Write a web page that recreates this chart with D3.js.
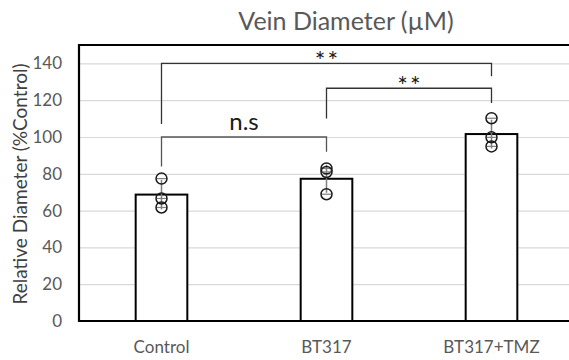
<!DOCTYPE html>
<html>
<head>
<meta charset="utf-8">
<script src="https://cdn.jsdelivr.net/npm/d3@7"></script>
<style>
  body { margin: 0; background: #fff; }
  svg { display: block; font-family: Lato, "Open Sans", sans-serif; }
</style>
</head>
<body>
<svg id="chart"></svg>
<script>
// chart values
const categories = ["Control", "BT317", "BT317+TMZ"];
const barMeans = [68.7, 77.3, 101.6];
const points = [
  [77.4, 66.6, 61.7],
  [82.9, 81.0, 68.9],
  [110.2, 99.8, 94.9]
];
const yTicks = [0, 20, 40, 60, 80, 100, 120, 140];

// significance brackets: pair of groups, height of bar, leg ends, label
const bracketPairs = [["Control", "BT317+TMZ"], ["BT317", "BT317+TMZ"], ["Control", "BT317"]];
const bracketLevels = [140, 126.5, 100];
const bracketLegEnds = [[107, 133], [110, 118.5], [84, 92]];
const bracketLabels = ["**", "**", "n.s"];

const width = 569;
const height = 360;
const plotLeft = 79, plotRight = 574, plotTop = 45, plotBottom = 321;

const svg = d3.select('#chart')
  .attr('width', width)
  .attr('height', height);

const x = d3.scaleBand()
  .domain(categories)
  .range([plotLeft, plotRight])
  .paddingInner(0.687)
  .paddingOuter(0.3435);

const y = d3.scaleLinear()
  .domain([0, 150])
  .range([plotBottom, plotTop]);

const cx = c => x(c) + x.bandwidth() / 2;

// gridlines
svg.append('g')
  .attr('transform', `translate(${plotLeft},0)`)
  .call(d3.axisLeft(y).tickValues(yTicks.filter(t => t > 0)).tickSize(-(plotRight - plotLeft)).tickFormat(''))
  .call(g => g.select('.domain').remove())
  .call(g => g.selectAll('line').attr('stroke', '#d9d9d9').attr('stroke-width', 1.2));

// y tick labels
svg.append('g')
  .attr('transform', `translate(${plotLeft},0)`)
  .call(d3.axisLeft(y).tickValues(yTicks).tickSize(0).tickPadding(17))
  .call(g => g.select('.domain').remove())
  .call(g => g.selectAll('text')
    .attr('fill', '#595959')
    .style('font-family', 'Lato')
    .style('font-size', '17px'));

// bars
svg.append('g')
  .selectAll('rect')
  .data(categories)
  .enter().append('rect')
  .attr('x', c => x(c))
  .attr('y', (c, i) => y(barMeans[i]))
  .attr('width', x.bandwidth())
  .attr('height', (c, i) => y(0) - y(barMeans[i]))
  .attr('fill', '#fff')
  .attr('stroke', '#000')
  .attr('stroke-width', 2);

// error bars (mean +/- sd of points)
const errG = svg.append('g');
categories.forEach((c, i) => {
  const sd = d3.deviation(points[i]);
  errG.append('line')
    .attr('x1', cx(c)).attr('x2', cx(c))
    .attr('y1', y(barMeans[i] + sd)).attr('y2', y(barMeans[i] - sd))
    .attr('stroke', '#7f7f7f')
    .attr('stroke-width', 1.5);
});

// individual points
const ptG = svg.append('g');
categories.forEach((c, i) => {
  points[i].forEach(v => {
    ptG.append('line')
      .attr('x1', cx(c) - 5).attr('x2', cx(c) + 5)
      .attr('y1', y(v)).attr('y2', y(v))
      .attr('stroke', '#7f7f7f')
      .attr('stroke-width', 1.2);
    ptG.append('circle')
      .attr('cx', cx(c))
      .attr('cy', y(v))
      .attr('r', 5.5)
      .attr('fill', 'none')
      .attr('stroke', '#1a1a1a')
      .attr('stroke-width', 1.5);
  });
});

// frame
svg.append('path')
  .attr('d', `M${plotRight},${plotTop}H${plotLeft}V${plotBottom}H${plotRight}`)
  .attr('fill', 'none')
  .attr('stroke', '#000')
  .attr('stroke-width', 2.2);

// brackets
const brG = svg.append('g');
bracketPairs.forEach((pair, i) => {
  const xa = cx(pair[0]), xb = cx(pair[1]);
  const yl = y(bracketLevels[i]);
  brG.append('path')
    .attr('d', `M${xa},${y(bracketLegEnds[i][0])}V${yl}H${xb}V${y(bracketLegEnds[i][1])}`)
    .attr('fill', 'none')
    .attr('stroke', bracketLabels[i] === 'n.s' ? '#555' : '#333')
    .attr('stroke-width', 1.3);
  const isStar = bracketLabels[i] === '**';
  brG.append('text')
    .attr('x', (xa + xb) / 2 + (isStar ? 1 : 0))
    .attr('y', isStar ? yl + 7 : yl - 7.5)
    .attr('text-anchor', 'middle')
    .attr('fill', '#1a1a1a')
    .style('font-size', isStar ? '25px' : '24px')
    .style('letter-spacing', isStar ? '2px' : '0px')
    .text(bracketLabels[i]);
});

// x labels
svg.append('g')
  .selectAll('text')
  .data(categories)
  .enter().append('text')
  .attr('x', c => cx(c))
  .attr('y', 353)
  .attr('text-anchor', 'middle')
  .attr('fill', '#595959')
  .style('font-size', '17px')
  .text(c => c);

// title
svg.append('text')
  .attr('x', 346)
  .attr('y', 30)
  .attr('text-anchor', 'middle')
  .attr('fill', '#595959')
  .style('font-size', '25px')
  .text('Vein Diameter (µM)');

// y axis label
svg.append('text')
  .attr('transform', `translate(27,${(plotTop + plotBottom) / 2 + 1}) rotate(-90)`)
  .attr('text-anchor', 'middle')
  .attr('fill', '#404040')
  .style('font-size', '19px')
  .text('Relative Diameter (%Control)');
</script>
</body>
</html>
